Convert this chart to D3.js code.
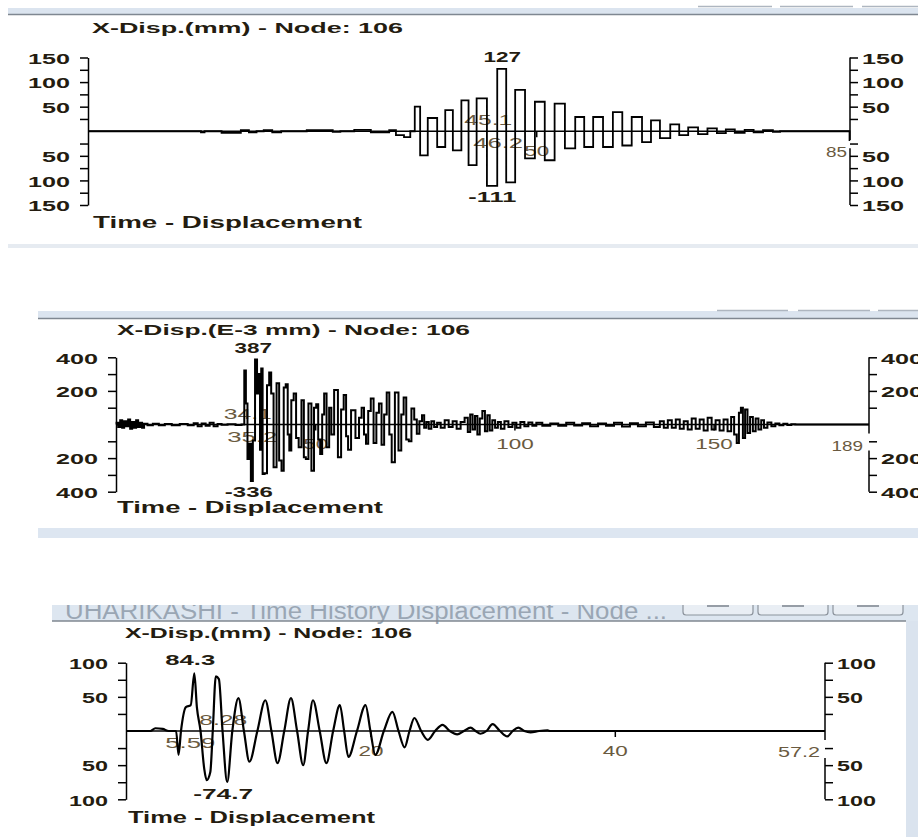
<!DOCTYPE html>
<html>
<head>
<meta charset="utf-8">
<script src="https://cdn.jsdelivr.net/npm/d3@7"></script>
<style>
body { margin: 0; background: #fff; }
svg { display: block; font-family: "Liberation Sans", Arial, sans-serif; }
</style>
</head>
<body>
<script>
// ---- panel 1 : X-Disp.(mm), time 0..85 ----
var p1Samples = [
  [0,0],[12.4,0],[12.8,-2],[13.2,0],[16.6,-3],[17.5,2],[18.4,-2],[19.2,0],[20.0,2],[21.1,-2],
  [22.0,0],[26.8,2],[27.8,-1],[28.5,0],[30.9,3],[32.2,-2],[33.3,-2],[33.9,2],[34.8,-8],[35.7,-12],
  [36.2,0],[36.7,50],[37.4,-49],[38.4,27],[39.5,-32],[40.2,43],[41.2,-39],[42.1,63],[42.8,-69],[43.9,67],
  [45.1,-111],[46.2,127],[47.1,-104],[48.2,84],[49.3,-55],[50.4,60],[51.5,-59],[52.6,56],[53.8,-35],[54.9,29],
  [55.8,-32],[56.9,29],[58.0,-32],[59.1,39],[60.1,-29],[61.2,29],[62.4,-22],[63.2,22],[64.4,-14],[65.5,14],
  [66.4,-8],[67.5,8],[68.6,-6],[69.6,6],[70.7,-4],[71.6,4],[72.7,-3],[73.8,3],[74.7,-2],[75.9,2],
  [76.9,-1],[77.5,0],[84.9,0],[85,-18]
];
var p1YTicks = [150,125,100,75,50,25,-25,-50,-75,-100,-125,-150];
var p1YLabels = [150,100,50,-50,-100,-150];
var p1XLabels = [50];
var p1XEnd = 85;
var p1Extremes = [127, -111];
var p1ExtremeTimes = [46.2, 45.1];

// ---- panel 2 : X-Disp.(E-3 mm), time 0..189 ----
var p2Samples = [
  [0,0],[0.3,10],[0.8,-15],[1.3,25],[1.8,-20],[2.3,20],[2.8,-10],[3.3,30],[3.8,-25],[4.3,15],
  [4.8,-20],[5.3,25],[5.8,-15],[6.3,10],[6.8,-20],[7.3,5],[8.5,-5],[10,5],[11.5,-5],[13,3],
  [15,-4],[17,3],[19,-5],[20,8],[21,-10],[22,6],[23,-8],[24,10],[25,-10],[26,3],
  [27,-2],[29,2],[31,-3],[32,0],[32.4,322],[32.8,125],[33.2,-205],[33.6,-115],[34.1,-336],[34.6,-95],
  [35.2,387],[35.6,185],[36.0,300],[36.3,-150],[36.6,333],[37.0,-295],[37.6,-290],[38.2,233],[38.7,310],[39.2,185],
  [39.9,-255],[40.7,245],[41.2,-215],[41.9,-275],[42.3,220],[42.9,240],[43.3,-60],[43.7,-155],[44.3,145],[44.9,185],
  [45.5,-80],[46.2,-135],[46.9,145],[47.4,-195],[47.9,-205],[48.7,125],[49.4,-275],[50.0,100],[50.5,120],[51.0,-90],
  [51.5,-175],[52.0,60],[52.5,185],[53.2,-135],[53.8,100],[54.3,-60],[55.2,205],[56.2,-195],[56.8,90],[57.5,175],
  [58.0,-70],[58.5,-150],[59.5,85],[60.7,-80],[61.3,40],[62.0,100],[62.5,-60],[63.0,-115],[63.6,80],[64.3,155],
  [65.0,-110],[65.7,70],[66.3,125],[67.0,-120],[67.6,60],[68.3,190],[68.9,-60],[69.5,-225],[70.5,190],[71.3,-155],
  [71.9,60],[72.5,160],[73.2,-90],[73.8,-100],[74.5,95],[75.2,30],[75.8,-55],[76.5,20],[77.1,55],[77.6,-20],
  [78.2,15],[78.8,-25],[79.5,20],[80.2,-15],[81,10],[82,-20],[83,25],[84,-15],[85,20],[86,-25],
  [87,15],[88,40],[88.6,-45],[89.2,60],[89.8,-30],[90.4,50],[91.0,-60],[91.6,35],[92.3,80],[92.9,-40],
  [93.5,55],[94.1,-35],[94.8,25],[95.5,-20],[96.2,15],[97,-25],[98,20],[99,-15],[100,10],[101,-20],
  [102,15],[103,-10],[104,12],[105,-8],[106,10],[108,-8],[110,6],[112,-8],[114,10],[116,-6],
  [118,8],[120,-10],[122,6],[124,-8],[126,10],[128,-12],[130,8],[132,-10],[134,12],[136,-15],
  [137,20],[138,-20],[139,25],[140,-20],[141,30],[142,-25],[143,20],[144,-30],[145,35],[146,-25],
  [147,30],[148,-35],[149,40],[150,-30],[151,25],[152,-35],[153,30],[154,-40],[154.8,45],[155.5,-60],
  [156.1,-110],[156.6,70],[157.1,100],[157.6,-80],[158.2,90],[158.8,-50],[159.5,45],[160.2,-40],[160.9,35],[161.6,-30],
  [162.3,25],[163,-20],[164,12],[165,-10],[166,6],[167,-5],[168,4],[169,-3],[170,2],[171,0],
  [189,0]
];
var p2YTicks = [400,300,200,100,-100,-200,-300,-400];
var p2YLabels = [400,200,-200,-400];
var p2XLabels = [50,100,150];
var p2XEnd = 189;
var p2Extremes = [387, -336];
var p2ExtremeTimes = [35.2, 34.1];

// ---- panel 3 : X-Disp.(mm), time 0..57.2 ----
var p3Samples = [
  [0,0],[2.0,0],[2.4,4],[3.0,3],[3.5,0],[4.1,0],[4.3,-35],[4.5,0],[4.9,35],[5.3,38],
  [5.59,84.3],[5.8,35],[6.1,0],[6.4,-55],[6.6,-72],[6.9,-60],[7.1,0],[7.35,80],[7.6,76],[7.9,0],
  [8.28,-74.7],[8.7,0],[9.2,48],[9.65,0],[10.1,-45],[10.75,0],[11.4,45],[11.9,0],[12.4,-47],[12.95,0],
  [13.5,48],[14.0,0],[14.5,-50],[14.9,0],[15.3,45],[15.85,0],[16.4,-47],[16.95,0],[17.5,38],[17.85,0],
  [18.2,-38],[18.9,0],[19.6,38],[20.0,0],[20.4,-35],[21.1,0],[21.8,28],[22.3,0],[22.8,-24],[23.2,0],
  [23.6,19],[24.15,0],[24.7,-13],[25.3,0],[25.9,9],[26.5,0],[27.1,-5],[27.65,0],[28.2,5],[28.6,0],
  [29.0,-4],[29.5,0],[30.0,10],[30.6,0],[31.2,-8],[31.65,0],[32.1,5],[32.6,0],[33.1,-2],[33.8,0],
  [34.5,1],[34.7,0],[57.2,0]
];
var p3YTicks = [100,75,50,25,-25,-50,-75,-100];
var p3YLabels = [100,50,-50,-100];
var p3XLabels = [20,40];
var p3XEnd = 57.2;
var p3Extremes = [84.3, -74.7];
var p3ExtremeTimes = [5.59, 8.28];

var darkText = "#241c10";
var softText = "#6a5a40";

var svg = d3.select("body").append("svg")
    .attr("width", 918)
    .attr("height", 837);

// window chrome (screenshot frames)
function chrome() {
  // panel 1 frame
  svg.append("rect").attr("x", 8).attr("y", 8).attr("width", 910).attr("height", 6).attr("fill", "#dbe4ef");
  svg.append("line").attr("x1", 8).attr("x2", 918).attr("y1", 14.5).attr("y2", 14.5).attr("stroke", "#7f8791").attr("stroke-width", 1.5);
  [[698,772],[780,853],[862,918]].forEach(function(b){
    svg.append("line").attr("x1", b[0]).attr("x2", b[1]).attr("y1", 6.5).attr("y2", 6.5).attr("stroke", "#aeb6c0").attr("stroke-width", 1.5);
  });
  svg.append("rect").attr("x", 8).attr("y", 244).attr("width", 910).attr("height", 4).attr("fill", "#e6ebf1");

  // panel 2 frame
  svg.append("rect").attr("x", 38).attr("y", 311).attr("width", 880).attr("height", 7).attr("fill", "#dbe4ef");
  svg.append("line").attr("x1", 38).attr("x2", 918).attr("y1", 318.5).attr("y2", 318.5).attr("stroke", "#7f8791").attr("stroke-width", 1.5);
  [[717,788],[798,870],[878,918]].forEach(function(b){
    svg.append("line").attr("x1", b[0]).attr("x2", b[1]).attr("y1", 310.5).attr("y2", 310.5).attr("stroke", "#aeb6c0").attr("stroke-width", 1.5);
  });
  svg.append("rect").attr("x", 38).attr("y", 528).attr("width", 880).attr("height", 10).attr("fill", "#dde6f1");

  // panel 3 frame, its caption bar is cut by the top of the screenshot
  svg.append("rect").attr("x", 52).attr("y", 600).attr("width", 866).attr("height", 21).attr("fill", "#dde6f0");
  svg.append("text").attr("x", 65).attr("y", 619).attr("font-size", 23).attr("fill", "#9aa6b4")
      .attr("textLength", 602).attr("lengthAdjust", "spacingAndGlyphs")
      .text("UHARIKASHI - Time History Displacement - Node ...");
  [[683,753],[758,828],[833,903]].forEach(function(b){
    svg.append("rect").attr("x", b[0]).attr("y", 594).attr("width", b[1]-b[0]).attr("height", 21).attr("rx", 3)
        .attr("fill", "#e9eef4").attr("stroke", "#8c939c").attr("stroke-width", 1.2);
    svg.append("line").attr("x1", b[0] + 24).attr("x2", b[1] - 24).attr("y1", 606).attr("y2", 606)
        .attr("stroke", "#7a828c").attr("stroke-width", 1.5);
  });
  svg.append("rect").attr("x", 0).attr("y", 580).attr("width", 918).attr("height", 25).attr("fill", "#fff");
  svg.append("line").attr("x1", 52).attr("x2", 906).attr("y1", 621).attr("y2", 621).attr("stroke", "#7f8791").attr("stroke-width", 1.5);
  svg.append("rect").attr("x", 906).attr("y", 621).attr("width", 12).attr("height", 216).attr("fill", "#dae3ee");
}
chrome();

function stretchText(sel, w) {
  sel.attr("textLength", w).attr("lengthAdjust", "spacingAndGlyphs");
}

function drawPanel(p, samples, yTicks, yLabels, xLabels, xEnd, ext, extT, curve) {
  var x = d3.scaleLinear().domain([0, xEnd]).range([p.left, p.right]);
  var y = d3.scaleLinear().domain([-p.yMax, p.yMax]).range([p.bottom, p.top]);
  var zero = y(0);
  var g = svg.append("g");

  // title + footer
  g.append("text").attr("x", p.titleX).attr("y", p.titleY)
      .attr("font-size", 15).attr("font-weight", "bold").attr("fill", darkText)
      .call(stretchText, p.titleW).text(p.title);
  g.append("text").attr("x", p.footX).attr("y", p.footY)
      .attr("font-size", 16).attr("font-weight", "bold").attr("fill", darkText)
      .call(stretchText, p.footW).text("Time - Displacement");

  // left axis
  var left = g.append("g").attr("transform", "translate(" + p.left + ",0)")
      .call(d3.axisLeft(y).tickValues(yTicks).tickSize(8).tickSizeOuter(0).tickPadding(10)
        .tickFormat(function(d){ return yLabels.indexOf(d) >= 0 ? Math.abs(d) : ""; }));
  left.selectAll("path, line").attr("stroke", "#000").attr("stroke-width", 1.5);
  left.selectAll("text").attr("font-size", 15).attr("font-weight", "bold").attr("fill", darkText)
      .attr("font-family", "Liberation Sans, Arial, sans-serif").attr("dy", "0.38em")
      .each(function(d){ if (yLabels.indexOf(d) >= 0) stretchText(d3.select(this), String(Math.abs(d)).length * p.digitW); });

  // right axis (line has a gap under the end label)
  var right = g.append("g").attr("transform", "translate(" + p.right + ",0)")
      .call(d3.axisRight(y).tickValues(yTicks).tickSize(8).tickSizeOuter(0).tickPadding(4)
        .tickFormat(function(d){ return yLabels.indexOf(d) >= 0 ? Math.abs(d) : ""; }));
  right.select(".domain").remove();
  right.selectAll("line").attr("stroke", "#000").attr("stroke-width", 1.5);
  right.selectAll("text").attr("font-size", 15).attr("font-weight", "bold").attr("fill", darkText)
      .attr("font-family", "Liberation Sans, Arial, sans-serif").attr("dy", "0.38em")
      .each(function(d){ if (yLabels.indexOf(d) >= 0) stretchText(d3.select(this), String(Math.abs(d)).length * p.digitW); });
  g.append("line").attr("x1", p.right).attr("x2", p.right).attr("y1", p.top).attr("y2", zero + p.gap[0])
      .attr("stroke", "#000").attr("stroke-width", 1.5);
  g.append("line").attr("x1", p.right).attr("x2", p.right).attr("y1", zero + p.gap[1]).attr("y2", p.bottom)
      .attr("stroke", "#000").attr("stroke-width", 1.5);

  // time axis along zero
  g.append("line").attr("x1", p.left).attr("x2", p.right).attr("y1", zero).attr("y2", zero)
      .attr("stroke", "#000").attr("stroke-width", 1.3);
  var bottom = g.append("g").attr("transform", "translate(0," + zero + ")")
      .call(d3.axisBottom(x).tickValues(xLabels).tickSize(6).tickPadding(9).tickFormat(d3.format("d")));
  bottom.select(".domain").remove();
  bottom.selectAll("line").attr("stroke", "#000").attr("stroke-width", 1.5);
  bottom.selectAll("text").attr("font-size", 14).attr("fill", softText)
      .attr("font-family", "Liberation Sans, Arial, sans-serif")
      .each(function(d){ stretchText(d3.select(this), String(d).length * 12.5); });
  g.append("text").attr("x", p.right - p.endPad).attr("y", zero + 26).attr("text-anchor", "end")
      .attr("font-size", 14).attr("fill", softText)
      .call(stretchText, String(xEnd).length * 10.5).text(xEnd);

  // times of extremes, near the axis
  g.append("text").attr("x", x(extT[1]) - 4).attr("y", zero - 6).attr("text-anchor", "middle")
      .attr("font-size", 14).attr("fill", softText).call(stretchText, 48).text(extT[1]);
  g.append("text").attr("x", x(extT[0]) - 4).attr("y", zero + 17).attr("text-anchor", "middle")
      .attr("font-size", 14).attr("fill", softText).call(stretchText, 50).text(extT[0]);

  // the signal
  var line = d3.line()
      .x(function(d){ return x(d[0]); })
      .y(function(d){ return y(d[1]); })
      .curve(curve);
  g.append("path").attr("d", line(samples))
      .attr("fill", "none").attr("stroke", "#000").attr("stroke-width", p.strokeW)
      .attr("stroke-linejoin", "miter");

  // extreme values
  g.append("text").attr("x", x(extT[0]) - p.peakShift).attr("y", p.maxLabelY).attr("text-anchor", "middle")
      .attr("font-size", 15).attr("font-weight", "bold").attr("fill", darkText)
      .call(stretchText, String(ext[0]).length * 12.5).text(ext[0]);
  g.append("text").attr("x", x(extT[1]) - p.peakShift).attr("y", p.minLabelY).attr("text-anchor", "middle")
      .attr("font-size", 15).attr("font-weight", "bold").attr("fill", darkText)
      .call(stretchText, String(ext[1]).length * 12).text(ext[1]);
}

drawPanel({
  left: 88, right: 850, top: 57.5, bottom: 205, yMax: 150,
  title: "X-Disp.(mm) - Node: 106", titleX: 92, titleY: 33, titleW: 311,
  footX: 93, footY: 228, footW: 269, digitW: 14, gap: [9, 17], endPad: 3,
  maxLabelY: 62, minLabelY: 202, peakShift: 0, strokeW: 1.8
}, p1Samples, p1YTicks, p1YLabels, p1XLabels, p1XEnd, p1Extremes, p1ExtremeTimes, d3.curveStep);

drawPanel({
  left: 116, right: 869, top: 357.3, bottom: 491.7, yMax: 400,
  title: "X-Disp.(E-3 mm) - Node: 106", titleX: 117, titleY: 335, titleW: 353,
  footX: 117, footY: 513, footW: 266, digitW: 14, gap: [9, 26], endPad: 6,
  maxLabelY: 353, minLabelY: 497, peakShift: 3, strokeW: 2
}, p2Samples, p2YTicks, p2YLabels, p2XLabels, p2XEnd, p2Extremes, p2ExtremeTimes, d3.curveStep);

drawPanel({
  left: 126, right: 825, top: 662.7, bottom: 799.3, yMax: 100,
  title: "X-Disp.(mm) - Node: 106", titleX: 125, titleY: 638, titleW: 287,
  footX: 128, footY: 823, footW: 247, digitW: 13, gap: [9, 27], endPad: 5,
  maxLabelY: 665, minLabelY: 799, peakShift: 4, strokeW: 2.2
}, p3Samples, p3YTicks, p3YLabels, p3XLabels, p3XEnd, p3Extremes, p3ExtremeTimes, d3.curveMonotoneX);
</script>
</body>
</html>
